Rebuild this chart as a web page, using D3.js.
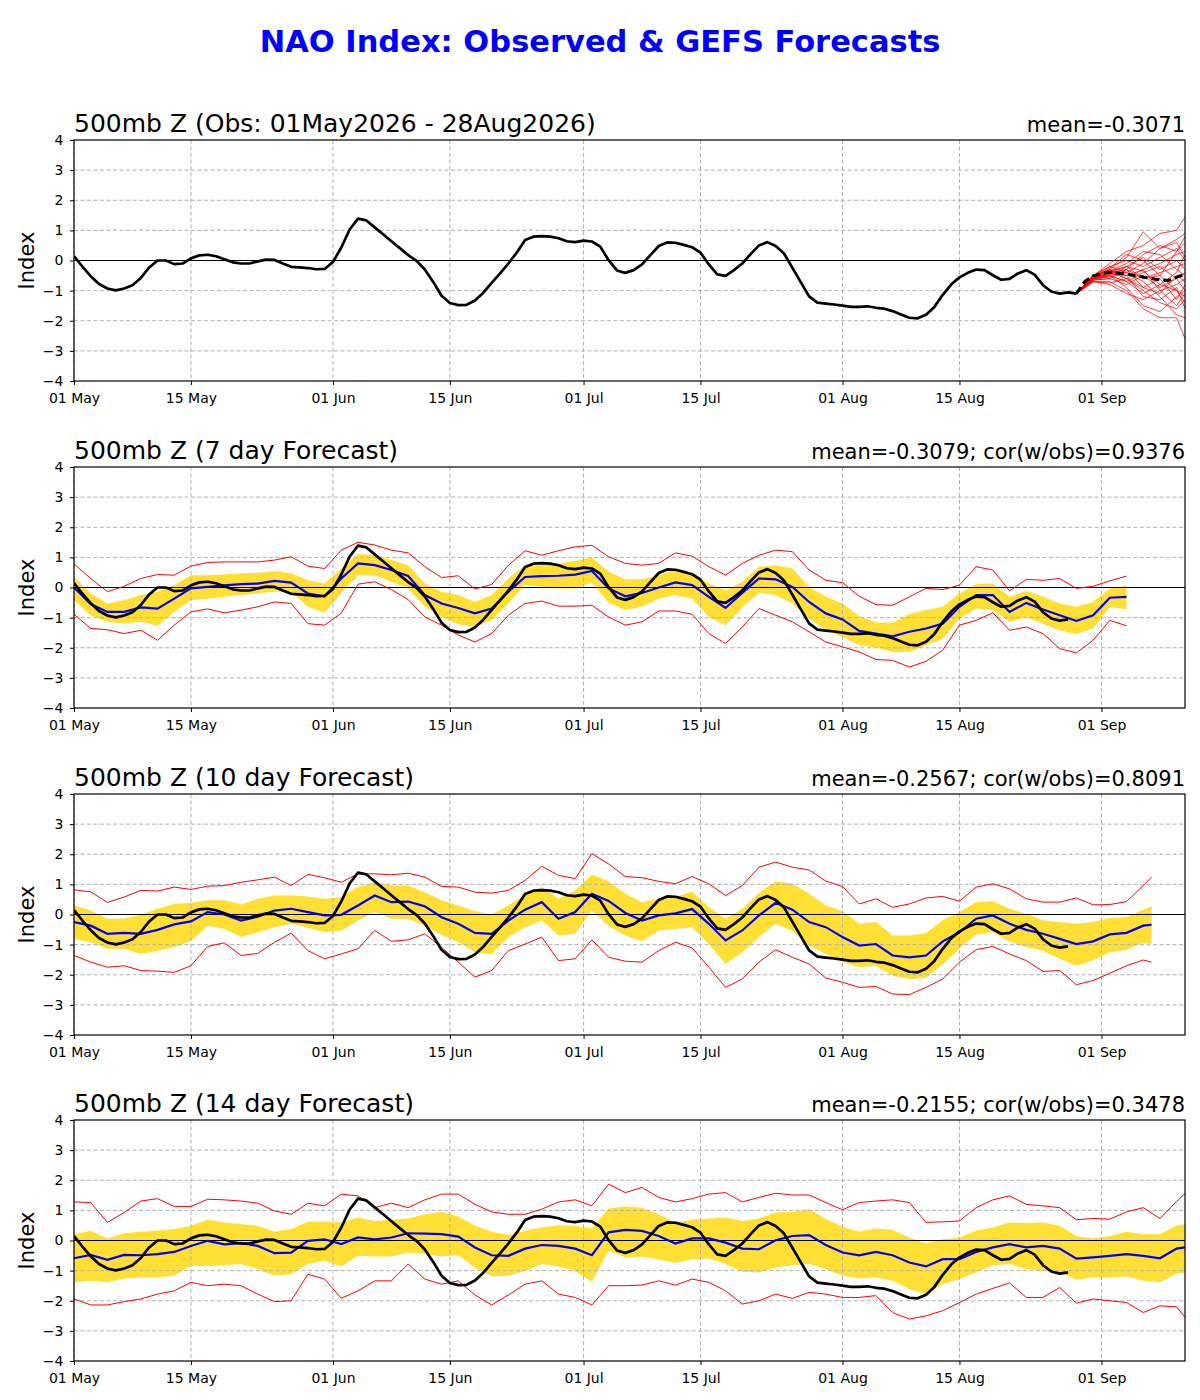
<!DOCTYPE html>
<html>
<head>
<meta charset="utf-8">
<script src="https://cdn.jsdelivr.net/npm/d3@7"></script>
<style>
  body { margin: 0; background: #fff; }
  text { font-family: "DejaVu Sans", sans-serif; }
</style>
</head>
<body>
<script>
// ---- data (day 0 = 01 May 2026) ----
var mainTitle = "NAO Index: Observed & GEFS Forecasts";
var panelTitles = ["500mb Z (Obs: 01May2026 - 28Aug2026)", "500mb Z (7 day Forecast)",
  "500mb Z (10 day Forecast)", "500mb Z (14 day Forecast)"];
var panelStats = ["mean=-0.3071", "mean=-0.3079; cor(w/obs)=0.9376",
  "mean=-0.2567; cor(w/obs)=0.8091", "mean=-0.2155; cor(w/obs)=0.3478"];
var tickDays = [0, 14, 31, 45, 61, 75, 92, 106, 123];
var yTicks = [-4, -3, -2, -1, 0, 1, 2, 3, 4];

// observed NAO, daily
var obs = [0.15, -0.2, -0.52, -0.78, -0.93, -0.99, -0.93, -0.82, -0.58, -0.23,
  0.0, 0.0, -0.12, -0.1, 0.07, 0.17, 0.19, 0.14, 0.04, -0.06,
  -0.1, -0.1, -0.03, 0.03, 0.02, -0.1, -0.21, -0.23, -0.25, -0.29,
  -0.28, -0.05, 0.43, 1.03, 1.39, 1.33, 1.1, 0.87, 0.64, 0.41,
  0.18, -0.01, -0.3, -0.71, -1.17, -1.41, -1.48, -1.47, -1.33, -1.07,
  -0.74, -0.43, -0.1, 0.26, 0.68, 0.79, 0.81, 0.79, 0.74, 0.64,
  0.61, 0.66, 0.63, 0.46, 0.01, -0.33, -0.41, -0.32, -0.13, 0.18,
  0.48, 0.6, 0.59, 0.52, 0.44, 0.26, -0.13, -0.46, -0.51, -0.32,
  -0.1, 0.21, 0.5, 0.61, 0.48, 0.23, -0.24, -0.72, -1.19, -1.4,
  -1.43, -1.46, -1.5, -1.54, -1.54, -1.52, -1.57, -1.6, -1.68, -1.79,
  -1.9, -1.92, -1.8, -1.54, -1.14, -0.8, -0.56, -0.41, -0.3, -0.32,
  -0.49, -0.64, -0.61, -0.43, -0.32, -0.47, -0.82, -1.03, -1.1, -1.06,
  -1.1];

// GEFS ensemble forecast from the last obs
var ensDays = [120, 122, 124, 126, 128, 130, 132, 133];
var ensMembers = [
  [-1.1, -0.5, -0.1, 0.3, 0.5, 0.9, 1.0, 1.45],
  [-1.1, -0.55, -0.3, 0.1, 0.95, 0.4, 0.7, 0.9],
  [-1.1, -0.6, -0.4, -0.3, 0.2, 0.5, 0.3, 0.6],
  [-1.1, -0.5, -0.2, 0.0, -0.2, 0.1, 0.4, 0.0],
  [-1.1, -0.6, -0.45, -0.5, -0.3, -0.1, 0.2, 0.3],
  [-1.1, -0.55, -0.35, -0.2, -0.6, -0.4, -0.2, -0.1],
  [-1.1, -0.65, -0.6, -0.8, -0.5, -0.9, -0.6, -0.4],
  [-1.1, -0.7, -0.8, -1.1, -1.3, -1.0, -0.8, -0.6],
  [-1.1, -0.6, -0.5, -0.9, -1.5, -1.7, -1.2, -1.0],
  [-1.1, -0.7, -0.7, -1.0, -1.6, -1.9, -1.9, -2.6],
  [-1.1, -0.5, -0.3, -0.6, -1.0, -1.4, -1.6, -1.3],
  [-1.1, -0.6, -0.4, -0.4, -0.7, -1.2, -1.8, -1.9],
  [-1.1, -0.55, -0.25, 0.2, 0.0, -0.5, -1.0, -1.4],
  [-1.1, -0.6, -0.45, -0.3, -0.9, -0.6, -1.3, -0.8],
  [-1.1, -0.5, -0.35, -0.1, 0.3, 0.2, -0.3, -0.5],
  [-1.1, -0.65, -0.5, -0.7, -0.4, -0.2, -0.6, -1.0],
  [-1.1, -0.6, -0.4, -0.2, -0.35, -0.8, -0.4, 0.2],
  [-1.1, -0.55, -0.3, -0.5, -1.2, -1.3, -0.9, -1.6],
  [-1.1, -0.6, -0.55, -0.2, 0.1, -0.3, 0.0, -0.3],
  [-1.1, -0.7, -0.75, -0.6, -0.9, -1.1, -0.5, -0.7],
  [-1.1, -0.5, -0.2, -0.4, -0.1, 0.4, 0.6, 0.1],
  [-1.1, -0.6, -0.5, -0.7, -1.1, -0.8, -1.0, -1.2],
  [-1.1, -0.65, -0.6, -0.3, -0.6, -0.5, 0.3, 0.8],
  [-1.1, -0.55, -0.4, -0.6, -0.3, -1.0, -1.5, -1.1]
];
var ensMeanDays = [120, 121, 122, 123, 124, 125, 126, 127, 128, 129, 130, 131, 132, 133];
var ensMean = [-1.1, -0.7, -0.51, -0.44, -0.39, -0.42, -0.44, -0.51, -0.55, -0.6, -0.64, -0.66, -0.55, -0.46];

// 7 day forecast (every 2 days)
var fc7Days = d3.range(0, 127, 2);
var fc7Mean = [0.0, -0.55, -0.81, -0.81, -0.66, -0.7, -0.37, -0.03, 0.02, 0.07,
  0.11, 0.13, 0.22, 0.16, -0.2, -0.29, 0.3, 0.8, 0.74, 0.58,
  0.38, -0.25, -0.53, -0.68, -0.86, -0.7, -0.14, 0.35, 0.38, 0.39,
  0.43, 0.55, -0.03, -0.29, -0.18, 0.0, 0.17, 0.08, -0.31, -0.68,
  -0.18, 0.3, 0.27, 0.02, -0.48, -0.86, -1.06, -1.44, -1.53, -1.62,
  -1.47, -1.36, -1.2, -0.64, -0.25, -0.25, -0.81, -0.51, -0.73, -0.92,
  -1.11, -0.92, -0.34, -0.31];
var fc7Hi = [0.35, -0.2, -0.53, -0.42, -0.25, -0.14, 0.08, 0.41, 0.41, 0.43,
  0.47, 0.49, 0.54, 0.47, 0.24, 0.13, 0.63, 1.11, 1.07, 0.91,
  0.74, 0.13, -0.14, -0.25, -0.48, -0.25, 0.3, 0.74, 0.74, 0.8,
  0.88, 1.0, 0.52, 0.27, 0.27, 0.41, 0.58, 0.5, 0.13, -0.09,
  0.19, 0.69, 0.74, 0.63, 0.02, -0.31, -0.53, -0.95, -1.16, -1.17,
  -0.89, -0.75, -0.64, -0.2, 0.11, 0.13, -0.31, -0.11, -0.31, -0.53,
  -0.64, -0.48, -0.03, 0.07];
var fc7Lo = [-0.42, -0.92, -1.14, -1.2, -1.14, -1.27, -0.81, -0.42, -0.37, -0.31,
  -0.25, -0.2, -0.14, -0.14, -0.64, -0.84, -0.18, 0.41, 0.41, 0.19,
  -0.03, -0.64, -0.98, -1.22, -1.31, -1.09, -0.53, 0.08, 0.02, -0.03,
  -0.03, 0.16, -0.51, -0.75, -0.64, -0.37, -0.25, -0.37, -0.98, -1.25,
  -0.66, -0.18, -0.25, -0.53, -1.03, -1.42, -1.64, -1.92, -1.99, -2.14,
  -2.14, -1.92, -1.7, -1.03, -0.7, -0.75, -1.14, -0.98, -1.2, -1.42,
  -1.55, -1.36, -0.64, -0.73];
var fc7Max = [0.78, 0.3, -0.14, 0.04, 0.3, 0.43, 0.41, 0.71, 0.83, 0.85,
  0.85, 0.85, 0.91, 1.02, 0.71, 0.63, 1.24, 1.5, 1.41, 1.24,
  1.15, 0.69, 0.33, 0.39, -0.05, 0.1, 0.74, 1.22, 1.07, 1.22,
  1.35, 1.4, 1.02, 0.8, 0.74, 0.8, 1.15, 1.04, 0.69, 0.41,
  0.8, 1.07, 1.24, 1.19, 0.58, 0.24, 0.16, -0.29, -0.57, -0.59,
  -0.31, -0.03, -0.07, 0.08, 0.69, 0.58, -0.11, 0.27, 0.24, 0.3,
  -0.03, 0.04, 0.22, 0.38];
var fc7Min = [-0.89, -1.36, -1.4, -1.53, -1.42, -1.75, -1.25, -0.81, -0.71, -0.84,
  -0.75, -0.64, -0.48, -0.53, -1.2, -1.25, -0.85, 0.11, 0.19, -0.07,
  -0.4, -0.98, -1.25, -1.58, -1.81, -1.53, -0.92, -0.53, -0.45, -0.62,
  -0.62, -0.59, -0.98, -1.25, -1.14, -0.78, -0.78, -0.89, -1.53, -1.86,
  -1.31, -0.7, -0.92, -1.14, -1.47, -1.81, -1.97, -2.14, -2.39, -2.42,
  -2.64, -2.45, -2.08, -1.25, -1.09, -0.84, -1.42, -1.31, -1.53, -2.03,
  -2.17, -1.75, -1.09, -1.27];

// 10 day forecast
var fc10Days = d3.range(0, 129, 2).concat([129]);
var fc10Mean = [-0.25, -0.37, -0.64, -0.61, -0.64, -0.51, -0.33, -0.23, 0.08, 0.0,
  -0.2, -0.07, 0.13, 0.19, 0.08, -0.03, -0.01, 0.3, 0.63, 0.41,
  0.43, 0.27, -0.09, -0.31, -0.61, -0.64, -0.2, 0.16, 0.41, -0.14,
  0.08, 0.69, 0.45, 0.05, -0.2, -0.03, 0.04, 0.18, -0.31, -0.86,
  -0.53, -0.03, 0.39, 0.16, -0.25, -0.42, -0.75, -1.03, -0.98, -1.36,
  -1.42, -1.36, -0.89, -0.59, -0.14, -0.03, -0.31, -0.51, -0.64, -0.81,
  -0.98, -0.89, -0.66, -0.61, -0.37, -0.34];
var fc10Hi = [0.3, 0.13, -0.14, -0.14, -0.01, 0.19, 0.35, 0.38, 0.47, 0.47,
  0.33, 0.52, 0.63, 0.63, 0.6, 0.52, 0.58, 0.91, 1.07, 0.96,
  0.96, 0.74, 0.47, 0.3, 0.11, 0.0, 0.3, 0.66, 0.91, 0.52,
  0.8, 1.33, 1.1, 0.69, 0.41, 0.52, 0.58, 0.76, 0.24, -0.14,
  0.19, 0.71, 1.1, 1.02, 0.69, 0.3, 0.11, -0.31, -0.25, -0.7,
  -0.7, -0.62, -0.18, 0.08, 0.41, 0.44, 0.19, 0.02, -0.2, -0.25,
  -0.31, -0.25, -0.12, -0.09, 0.16, 0.27];
var fc10Lo = [-0.81, -0.92, -1.14, -1.14, -1.31, -1.2, -1.09, -0.89, -0.37, -0.48,
  -0.75, -0.59, -0.42, -0.31, -0.44, -0.59, -0.53, -0.2, 0.08, -0.14,
  -0.14, -0.37, -0.68, -0.92, -1.25, -1.31, -0.75, -0.42, -0.2, -0.7,
  -0.64, 0.13, -0.38, -0.7, -0.89, -0.53, -0.48, -0.42, -0.98, -1.64,
  -1.25, -0.75, -0.31, -0.55, -1.03, -1.31, -1.58, -1.75, -1.7, -2.03,
  -2.14, -2.11, -1.64, -1.14, -0.66, -0.59, -0.9, -1.09, -1.2, -1.47,
  -1.7, -1.53, -1.25, -1.17, -0.95, -0.98];
var fc10Max = [0.82, 0.75, 0.4, 0.58, 0.8, 0.78, 0.91, 0.83, 0.94, 0.96,
  1.07, 1.15, 1.24, 0.96, 1.33, 1.22, 1.07, 1.35, 1.35, 1.32,
  1.37, 1.24, 0.93, 0.91, 0.74, 0.71, 0.8, 1.13, 1.6, 1.3,
  1.19, 2.02, 1.68, 1.26, 1.22, 1.1, 1.02, 1.26, 1.02, 0.63,
  0.96, 1.57, 1.74, 1.57, 1.48, 1.11, 0.93, 0.35, 0.52, 0.24,
  0.35, 0.55, 0.6, 0.44, 0.91, 1.02, 0.85, 0.52, 0.41, 0.41,
  0.55, 0.32, 0.33, 0.43, 0.96, 1.24];
var fc10Min = [-1.36, -1.58, -1.75, -1.7, -1.86, -1.88, -1.92, -1.7, -1.06, -0.94,
  -1.36, -1.29, -0.92, -0.62, -1.2, -1.47, -1.31, -1.14, -0.53, -0.89,
  -0.84, -0.64, -1.09, -1.58, -2.08, -1.86, -1.2, -0.98, -0.75, -1.53,
  -1.47, -0.84, -1.42, -1.55, -1.58, -1.2, -0.92, -1.11, -1.75, -2.42,
  -2.14, -1.58, -1.17, -1.42, -1.64, -2.11, -2.25, -2.42, -2.39, -2.64,
  -2.66, -2.42, -2.14, -1.58, -1.17, -1.06, -1.31, -1.53, -1.89, -1.86,
  -2.33, -2.19, -1.95, -1.7, -1.51, -1.58];

// 14 day forecast
var fc14Days = d3.range(0, 133, 2).concat([133]);
var fc14Mean = [-0.59, -0.48, -0.64, -0.48, -0.49, -0.45, -0.38, -0.18, -0.01, -0.13,
  -0.09, -0.18, -0.42, -0.4, -0.01, 0.04, -0.12, 0.1, 0.04, 0.1,
  0.24, 0.23, 0.21, 0.13, -0.23, -0.49, -0.51, -0.27, -0.15, -0.18,
  -0.27, -0.49, 0.27, 0.35, 0.32, 0.15, -0.1, 0.07, 0.07, -0.07,
  -0.27, -0.29, 0.01, 0.15, 0.18, -0.15, -0.4, -0.49, -0.38, -0.49,
  -0.73, -0.86, -0.62, -0.62, -0.38, -0.23, -0.12, -0.23, -0.18, -0.27,
  -0.6, -0.56, -0.51, -0.45, -0.51, -0.59, -0.27, -0.23];
var fc14Hi = [0.21, 0.32, 0.07, 0.24, 0.29, 0.32, 0.38, 0.49, 0.69, 0.6,
  0.54, 0.49, 0.29, 0.38, 0.62, 0.63, 0.6, 0.76, 0.65, 0.69,
  0.73, 0.87, 0.95, 0.8, 0.49, 0.29, 0.18, 0.32, 0.43, 0.51,
  0.49, 0.4, 1.06, 1.13, 1.09, 0.87, 0.6, 0.69, 0.73, 0.76,
  0.65, 0.73, 0.93, 0.95, 1.04, 0.71, 0.46, 0.29, 0.4, 0.35,
  0.1, -0.09, 0.04, 0.1, 0.32, 0.43, 0.6, 0.57, 0.6, 0.49,
  0.15, 0.07, 0.15, 0.29, 0.21, 0.21, 0.5, 0.54];
var fc14Lo = [-1.39, -1.34, -1.39, -1.26, -1.23, -1.23, -1.17, -0.84, -0.85, -0.82,
  -0.78, -0.95, -1.17, -1.12, -0.78, -0.67, -0.86, -0.51, -0.53, -0.53,
  -0.4, -0.45, -0.53, -0.49, -0.9, -1.19, -1.17, -1.01, -0.78, -0.86,
  -1.01, -1.37, -0.34, -0.56, -0.54, -0.62, -0.75, -0.62, -0.6, -0.78,
  -1.04, -1.06, -0.9, -0.82, -0.78, -0.95, -1.17, -1.26, -1.23, -1.34,
  -1.61, -1.78, -1.45, -1.28, -1.06, -0.82, -0.78, -0.95, -1.01, -1.06,
  -1.3, -1.23, -1.23, -1.19, -1.34, -1.39, -1.1, -1.08];
var fc14Max = [1.28, 1.26, 0.6, 0.93, 1.31, 1.39, 1.13, 1.13, 1.37, 1.35,
  1.31, 1.24, 0.98, 0.87, 1.24, 1.15, 1.54, 1.48, 1.09, 1.24,
  1.09, 1.35, 1.54, 1.54, 1.2, 0.95, 0.87, 0.87, 1.04, 1.28,
  1.35, 1.15, 1.87, 1.59, 1.76, 1.43, 1.28, 1.39, 1.54, 1.59,
  1.28, 1.43, 1.57, 1.51, 1.51, 1.26, 1.02, 1.26, 1.31, 1.35,
  1.26, 0.6, 0.62, 0.65, 1.09, 1.35, 1.48, 1.2, 1.15, 1.09,
  0.69, 0.73, 0.71, 0.95, 1.09, 0.73, 1.3, 1.56];
var fc14Min = [-1.94, -2.14, -2.14, -2.03, -1.94, -1.78, -1.67, -1.39, -1.5, -1.45,
  -1.5, -1.78, -2.03, -2.0, -1.12, -1.28, -1.92, -1.67, -1.34, -1.34,
  -0.78, -1.28, -1.45, -1.34, -1.81, -2.14, -1.81, -1.45, -1.34, -1.78,
  -1.89, -2.14, -1.5, -1.5, -1.48, -1.34, -1.48, -1.28, -1.39, -1.67,
  -2.11, -2.0, -1.78, -1.92, -1.72, -1.78, -1.89, -1.89, -1.83, -2.39,
  -2.61, -2.5, -2.33, -2.06, -1.78, -1.59, -1.41, -1.89, -1.89, -1.56,
  -2.08, -1.94, -2.0, -2.06, -2.39, -2.17, -2.2, -2.55];

// ---- layout ----
function newGeometry() {
  return {
    left: 74,
    right: 1185,
    tops: [140, 467, 794, 1120],
    height: 241
  };
}

function dayToDate(d) {
  return new Date(Date.UTC(2026, 4, 1 + d));
}

function zip(days, vals) {
  return days.map(function(d, i) { return { day: d, v: vals[i] }; });
}

var geometry = newGeometry();
var svg = d3.select("body").append("svg")
  .attr("width", 1200)
  .attr("height", 1400);

var x = d3.scaleUtc()
  .domain([dayToDate(0), dayToDate(133)])
  .range([geometry.left, geometry.right]);

svg.append("text")
  .attr("x", 600).attr("y", 52)
  .attr("text-anchor", "middle")
  .style("font-size", "30.5px").style("font-weight", "bold")
  .attr("fill", "#0000ff")
  .text(mainTitle);

function newPanel(i) {
  var top = geometry.tops[i];
  var y = d3.scaleLinear().domain([-4, 4]).range([top + geometry.height, top]);
  var g = svg.append("g");

  g.append("clipPath").attr("id", "clip" + i)
    .append("rect")
    .attr("x", geometry.left).attr("y", top)
    .attr("width", geometry.right - geometry.left).attr("height", geometry.height);

  return { g: g, y: y, top: top, i: i };
}

function drawGrid(p) {
  var grid = p.g.append("g")
    .attr("stroke", "#b0b0b0").attr("stroke-width", 1)
    .attr("stroke-dasharray", "4,2.5");
  grid.selectAll(".gx").data(tickDays).enter().append("line")
    .attr("x1", function(d) { return x(dayToDate(d)); })
    .attr("x2", function(d) { return x(dayToDate(d)); })
    .attr("y1", p.top).attr("y2", p.top + geometry.height);
  grid.selectAll(".gy").data(yTicks.filter(function(v) { return Math.abs(v) < 4; }))
    .enter().append("line")
    .attr("x1", geometry.left).attr("x2", geometry.right)
    .attr("y1", function(d) { return p.y(d); })
    .attr("y2", function(d) { return p.y(d); });

  p.g.append("line")
    .attr("x1", geometry.left).attr("x2", geometry.right)
    .attr("y1", p.y(0)).attr("y2", p.y(0))
    .attr("stroke", "#000").attr("stroke-width", 1);
}

function drawFrame(p) {
  var xAxis = d3.axisBottom(x)
    .tickValues(tickDays.map(dayToDate))
    .tickFormat(d3.utcFormat("%d %b"))
    .tickSize(4).tickPadding(8);
  var yAxis = d3.axisLeft(p.y)
    .tickValues(yTicks)
    .tickFormat(d3.format("d"))
    .tickSize(4).tickPadding(6.5);

  var gx = p.g.append("g")
    .attr("transform", "translate(0," + (p.top + geometry.height) + ")")
    .call(xAxis);
  var gy = p.g.append("g")
    .attr("transform", "translate(" + geometry.left + ",0)")
    .call(yAxis);
  [gx, gy].forEach(function(a) {
    a.select(".domain").remove();
    a.selectAll("text").style("font-size", "14px").style("font-family", "DejaVu Sans, sans-serif").attr("fill", "#000");
    a.selectAll("line").attr("stroke", "#000");
  });

  p.g.append("rect")
    .attr("x", geometry.left).attr("y", p.top)
    .attr("width", geometry.right - geometry.left).attr("height", geometry.height)
    .attr("fill", "none").attr("stroke", "#000").attr("stroke-width", 1.2);

  p.g.append("text")
    .attr("transform", "translate(27," + (p.top + geometry.height / 2) + ") rotate(-90)")
    .attr("text-anchor", "middle").attr("dy", "0.35em")
    .style("font-size", "21px")
    .text("Index");

  p.g.append("text")
    .attr("x", geometry.left).attr("y", p.top - 8)
    .style("font-size", "25px")
    .text(panelTitles[p.i]);

  p.g.append("text")
    .attr("x", geometry.right).attr("y", p.top - 8)
    .attr("text-anchor", "end")
    .style("font-size", "21px")
    .text(panelStats[p.i]);
}

function lineFor(p) {
  return d3.line()
    .x(function(d) { return x(dayToDate(d.day)); })
    .y(function(d) { return p.y(d.v); });
}

function drawObs(p, n) {
  var days = d3.range(0, n);
  p.g.append("path")
    .datum(zip(days, obs.slice(0, n)))
    .attr("clip-path", "url(#clip" + p.i + ")")
    .attr("d", lineFor(p))
    .attr("fill", "none").attr("stroke", "#000")
    .attr("stroke-width", 2.7).attr("stroke-linejoin", "round");
}

function drawBand(p, days, lo, hi) {
  var band = days.map(function(d, k) { return { day: d, lo: lo[k], hi: hi[k] }; });
  var area = d3.area()
    .x(function(d) { return x(dayToDate(d.day)); })
    .y0(function(d) { return p.y(d.lo); })
    .y1(function(d) { return p.y(d.hi); });
  p.g.append("path")
    .datum(band)
    .attr("clip-path", "url(#clip" + p.i + ")")
    .attr("d", area)
    .attr("fill", "#ffdf33");
}

function drawForecastLines(p, days, mean, mn, mx) {
  var line = lineFor(p);
  [mn, mx].forEach(function(s) {
    p.g.append("path")
      .datum(zip(days, s))
      .attr("clip-path", "url(#clip" + p.i + ")")
      .attr("d", line)
      .attr("fill", "none").attr("stroke", "#ff0000").attr("stroke-width", 1);
  });
  p.g.append("path")
    .datum(zip(days, mean))
    .attr("clip-path", "url(#clip" + p.i + ")")
    .attr("d", line)
    .attr("fill", "none").attr("stroke", "#0000ff").attr("stroke-width", 2.2);
}

// panel 1: observed + ensemble
var p1 = newPanel(0);
drawGrid(p1);
drawObs(p1, obs.length);
ensMembers.forEach(function(m) {
  p1.g.append("path")
    .datum(zip(ensDays, m))
    .attr("clip-path", "url(#clip0)")
    .attr("d", lineFor(p1))
    .attr("fill", "none").attr("stroke", "#ff0000")
    .attr("stroke-opacity", 0.75).attr("stroke-width", 1);
});
p1.g.append("path")
  .datum(zip(ensMeanDays, ensMean))
  .attr("clip-path", "url(#clip0)")
  .attr("d", lineFor(p1))
  .attr("fill", "none").attr("stroke", "#000")
  .attr("stroke-width", 3).attr("stroke-dasharray", "8,4");
drawFrame(p1);

// forecast panels
var forecasts = [
  [fc7Days, fc7Mean, fc7Lo, fc7Hi, fc7Min, fc7Max],
  [fc10Days, fc10Mean, fc10Lo, fc10Hi, fc10Min, fc10Max],
  [fc14Days, fc14Mean, fc14Lo, fc14Hi, fc14Min, fc14Max]
];
forecasts.forEach(function(f, k) {
  var p = newPanel(k + 1);
  drawBand(p, f[0], f[2], f[3]);
  drawGrid(p);
  drawForecastLines(p, f[0], f[1], f[4], f[5]);
  drawObs(p, 120);
  drawFrame(p);
});
</script>
</body>
</html>
